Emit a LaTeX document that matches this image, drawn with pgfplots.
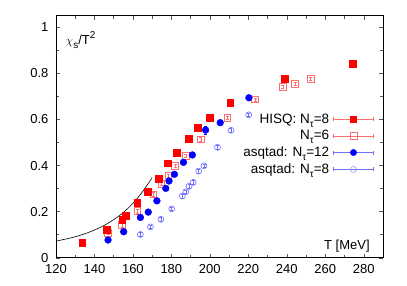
\documentclass[border=0pt]{standalone}
\usepackage{fontspec}
\setmainfont{Liberation Sans}
\usepackage{pgfplots}
\usepackage{pgfplotstable}
\pgfplotsset{compat=1.18}
\definecolor{hisqA}{RGB}{255,0,0}
\definecolor{hisqB}{RGB}{255,110,110}
\definecolor{asqA}{RGB}{0,0,255}
\definecolor{asqB}{RGB}{110,110,255}
\newcommand{\sub}[1]{\raisebox{-0.3em}{\fontsize{10}{11}\selectfont #1}}
\newcommand{\sups}[1]{\raisebox{0.45em}{\fontsize{10}{11}\selectfont #1}}

\pgfplotstableread{
T y e
133.7 0.067 0.004
146.2 0.120 0.004
154.5 0.164 0.004
156.4 0.184 0.004
162.2 0.239 0.004
167.5 0.288 0.004
173.6 0.344 0.004
178.3 0.410 0.004
182.8 0.457 0.004
189.0 0.518 0.004
193.7 0.564 0.004
199.9 0.609 0.004
210.6 0.672 0.004
239.1 0.778 0.004
274.3 0.843 0.004
}\hisqeight

\pgfplotstableread{
T y e
147.1 0.108 0.008
154.4 0.142 0.008
162.3 0.203 0.008
170.6 0.275 0.007
174.8 0.320 0.007
178.4 0.356 0.007
181.9 0.398 0.007
187.5 0.443 0.006
195.3 0.514 0.007
209.1 0.608 0.007
223.5 0.687 0.006
237.9 0.742 0.007
244.3 0.755 0.006
252.4 0.777 0.007
}\hisqsix

\pgfplotstableread{
T y e
147.1 0.077 0.005
155.2 0.113 0.005
163.9 0.175 0.005
168.0 0.198 0.005
172.5 0.247 0.005
177.1 0.301 0.006
178.8 0.333 0.006
181.6 0.362 0.006
186.3 0.414 0.006
190.9 0.446 0.006
197.8 0.554 0.018
205.4 0.586 0.006
220.3 0.694 0.006
}\asqtwelve

\pgfplotstableread{
T y e
163.9 0.101 0.008
169.1 0.134 0.008
174.6 0.167 0.008
180.2 0.212 0.008
185.7 0.268 0.008
187.5 0.286 0.008
189.2 0.310 0.008
191.3 0.327 0.008
194.2 0.376 0.008
197.0 0.399 0.008
204.0 0.479 0.008
211.0 0.553 0.008
220.2 0.620 0.008
}\asqeight

\newcommand{\legimg}[3]{%
  \draw[draw=#2, line width=0.6pt] (0pt,0pt) -- (40pt,0pt) (0pt,-2pt) -- (0pt,2pt) (40pt,-2pt) -- (40pt,2pt);
  \draw[color=#1] plot[only marks, #3] coordinates {(20pt,0pt)};
}

\begin{document}
\begin{tikzpicture}
\begin{axis}[
  scale only axis, width=327pt, height=242pt,
  xmin=120, xmax=290, ymin=0, ymax=1.05,
  xtick={120,140,160,180,200,220,240,260,280},
  ytick={0,0.2,0.4,0.6,0.8,1},
  minor x tick num=1, minor y tick num=1,
  tick align=inside,
  major tick length=4pt, minor tick length=3pt,
  tick style={gray!70!black, line width=0.5pt},
  axis line style={line width=0.7pt},
  /pgf/number format/assume math mode=true,
  yticklabel style={/pgf/number format/fixed, /pgf/number format/precision=1, xshift=-4pt},
  xticklabel style={yshift=-3pt},
  font=\fontsize{13}{15}\selectfont,
  legend plot pos=right,
  legend cell align=right,
  legend style={draw=none, fill=none, at={(rel axis cs:1,0.607)}, anchor=north east,
     xshift=-6pt, font=\fontsize{13.5}{15}\selectfont, row sep=4pt,
     nodes={inner ysep=0.8pt, inner xsep=4pt}},
  error bars/error bar style={line width=0.5pt},
  error bars/error mark options={rotate=90, mark size=1.5pt, line width=0.5pt},
]
\addplot[black, line width=0.6pt, smooth, forget plot] coordinates {
(120,0.072) (125,0.081) (130,0.091) (135,0.104) (140,0.120) (145,0.140)
(150,0.165) (155,0.196) (160,0.236) (165,0.286) (170,0.347)};

\addplot[forget plot, only marks, color=asqB, mark=o, mark size=3pt, mark options={line width=0.6pt},
  error bars/.cd, y dir=both, y explicit,
  ] table[x=T, y=y, y error=e]{\asqeight};
\addplot[forget plot, only marks, color=hisqB, mark=square, mark size=3.3pt, mark options={line width=0.6pt},
  error bars/.cd, y dir=both, y explicit,
  ] table[x=T, y=y, y error=e]{\hisqsix};
\addplot[forget plot, only marks, color=asqA, mark=*, mark size=3.4pt,
  error bars/.cd, y dir=both, y explicit,
  ] table[x=T, y=y, y error=e]{\asqtwelve};
\addplot[forget plot, only marks, color=hisqA, mark=square*, mark size=3.4pt,
  error bars/.cd, y dir=both, y explicit,
  ] table[x=T, y=y, y error=e]{\hisqeight};

\addlegendimage{legend image code/.code={\legimg{hisqA}{hisqB}{mark=square*, mark size=3.2pt}}}
\addlegendentry{HISQ: N\sub{τ}=8}
\addlegendimage{legend image code/.code={\legimg{hisqB}{hisqB}{mark=square, mark size=3.3pt, mark options={fill=white}}}}
\addlegendentry{N\sub{τ}=6}
\addlegendimage{legend image code/.code={\legimg{asqA}{asqB}{mark=*, mark size=3.2pt}}}
\addlegendentry{asqtad: N\sub{τ}=12}
\addlegendimage{legend image code/.code={\legimg{asqB}{asqB}{mark=o, mark size=3pt, mark options={fill=white}}}}
\addlegendentry{asqtad: N\sub{τ}=8}

\node[anchor=west] at (rel axis cs:0.02,0.9) {$\chi$\sub{s}/T\sups{2}};
\node[anchor=east] at (rel axis cs:0.97,0.048) {T [MeV]};
\end{axis}
\pgfresetboundingbox
\path[use as bounding box] ([shift={(-55.9pt,-27.3pt)}]current axis.south west) rectangle ([shift={(24pt,15.7pt)}]current axis.north east);
\end{tikzpicture}
\end{document}
